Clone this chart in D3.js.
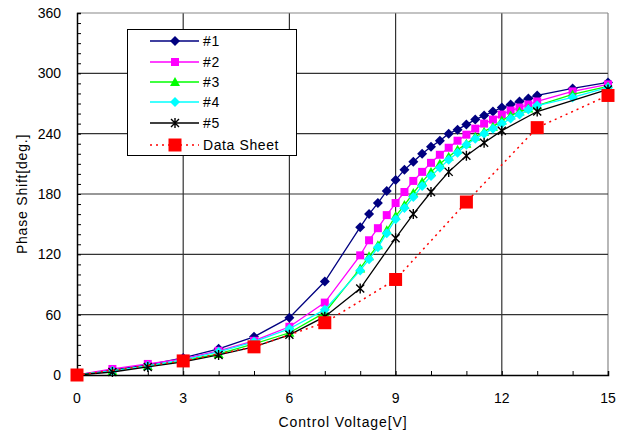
<!DOCTYPE html>
<html lang="en">
<head>
<meta charset="UTF-8">
<title>Phase shift vs control voltage</title>
<script src="https://cdn.jsdelivr.net/npm/d3@7/dist/d3.min.js"></script>
<style>
body { margin: 0; background: #fff; }
svg text { font-family: "Liberation Sans", Arial, sans-serif; fill: #000; }
</style>
</head>
<body>
<div id="chart"></div>
<script>

// x positions (volts) shared by series #1 - #4
var voltsDense = [0, 1, 2, 3, 4, 5, 6, 7,
  8, 8.25, 8.5, 8.75, 9, 9.25, 9.5, 9.75, 10, 10.25, 10.5, 10.75,
  11, 11.25, 11.5, 11.75, 12, 12.25, 12.5, 12.75, 13, 14, 15];

var s1 = [0, 5, 10, 17, 26, 38, 57, 93,
  147, 160, 171, 183, 194, 204, 212, 220, 227, 233, 240, 244,
  249, 254, 258, 262, 266, 269, 272, 275, 278, 285, 291];
var s2 = [0, 6, 11, 16, 24, 34, 48, 72,
  119, 134, 146, 159, 171, 182, 193, 202, 211, 219, 226, 233,
  239, 245, 250, 254, 259, 263, 266, 269, 272, 282, 289];
var s3 = [0, 4, 9, 14, 21, 31, 42, 62,
  106, 118, 129, 144, 158, 169, 181, 192, 202, 210, 217, 224,
  230, 237, 242, 247, 253, 258, 262, 265, 268, 279, 287];
var s4 = [0, 4, 9, 15, 23, 33, 46, 65,
  104, 115, 127, 141, 155, 166, 177, 188, 198, 206, 214, 221,
  229, 235, 240, 245, 250, 255, 259, 264, 268, 276, 286];

var volts5 = [0, 1, 2, 3, 4, 5, 6, 7, 8, 9, 9.5, 10, 10.5, 11, 11.5, 12, 13, 15];
var s5 = [0, 3, 8, 13, 20, 28, 40, 58, 86, 136, 160, 182, 202, 218, 231, 243, 262, 284];

var voltsSheet = [0, 3, 5, 7, 9, 11, 13, 15];
var sheet = [0, 14, 28, 52, 95, 172, 246, 278];

var seriesNames = ["#1", "#2", "#3", "#4", "#5", "Data Sheet"];
var xTicks = [0, 3, 6, 9, 12, 15];
var yTicks = [0, 60, 120, 180, 240, 300, 360];

// sizes
var w = 623, h = 432;
var plotLeft = 77, plotRight = 608, plotTop = 13, plotBottom = 375;

var svg = d3.select("#chart").append("svg")
  .attr("width", w)
  .attr("height", h);

var x = d3.scaleLinear().domain([0, 15]).range([plotLeft, plotRight]);
var y = d3.scaleLinear().domain([0, 360]).range([plotBottom, plotTop]);

// grid
svg.selectAll("line.vgrid")
  .data(xTicks.slice(1))
  .enter().append("line")
  .attr("x1", function(d) { return x(d); })
  .attr("x2", function(d) { return x(d); })
  .attr("y1", plotTop).attr("y2", plotBottom)
  .attr("stroke", function(d) { return d == 15 ? "#888" : "#333"; })
  .attr("stroke-width", 1.2);

svg.selectAll("line.hgrid")
  .data(yTicks.slice(1))
  .enter().append("line")
  .attr("y1", function(d) { return y(d); })
  .attr("y2", function(d) { return y(d); })
  .attr("x1", plotLeft).attr("x2", plotRight)
  .attr("stroke", function(d) { return d == 360 ? "#888" : "#333"; })
  .attr("stroke-width", 1.2);

// axes with inward minor ticks
var xAxis = svg.append("g")
  .attr("transform", "translate(0," + plotBottom + ")")
  .call(d3.axisTop(x).tickValues(d3.range(0, 16, 1)).tickSize(4).tickFormat(""));
var yAxis = svg.append("g")
  .attr("transform", "translate(" + plotLeft + ",0)")
  .call(d3.axisRight(y).tickValues(d3.range(0, 361, 10)).tickSize(4).tickFormat(""));
[xAxis, yAxis].forEach(function(g) {
  g.select(".domain").attr("stroke", "#000").attr("stroke-width", 1.5);
  g.selectAll(".tick line").attr("stroke", "#000");
});

// tick labels
svg.selectAll("text.xlab")
  .data(xTicks)
  .enter().append("text")
  .attr("x", function(d) { return x(d); })
  .attr("y", 403)
  .attr("text-anchor", "middle")
  .style("font-size", "14px")
  .text(function(d) { return d; });

svg.selectAll("text.ylab")
  .data(yTicks)
  .enter().append("text")
  .attr("x", 61)
  .attr("y", function(d) { return y(d) + 5; })
  .attr("text-anchor", "end")
  .style("font-size", "14px")
  .text(function(d) { return d; });

svg.append("text")
  .attr("x", 343).attr("y", 427)
  .attr("text-anchor", "middle")
  .style("font-size", "14px")
  .style("letter-spacing", "0.9px")
  .text("Control Voltage[V]");

svg.append("text")
  .attr("transform", "translate(27,194) rotate(-90)")
  .attr("text-anchor", "middle")
  .style("font-size", "14px")
  .style("letter-spacing", "0.8px")
  .text("Phase Shift[deg.]");

// marker drawing
var diamond = "M0,-5L5,0L0,5L-5,0Z";
var square = "M-4,-4L4,-4L4,4L-4,4Z";
var triangle = "M0,-5L5,4L-5,4Z";
var bigSquare = "M-6.5,-6.5L6.5,-6.5L6.5,6.5L-6.5,6.5Z";

function drawMarker(g, kind, color) {
  if (kind == "star") {
    g.append("path")
      .attr("d", "M-4,-4L4,4M-4,4L4,-4M0,-5L0,5")
      .attr("stroke", color).attr("stroke-width", 1.4).attr("fill", "none");
  } else {
    var p = { diamond: diamond, square: square, triangle: triangle, big: bigSquare }[kind];
    g.append("path").attr("d", p).attr("fill", color);
  }
}

var series = [
  { name: seriesNames[0], xs: voltsDense, ys: s1, color: "#000080", marker: "diamond", dash: null },
  { name: seriesNames[1], xs: voltsDense, ys: s2, color: "#ff00ff", marker: "square", dash: null },
  { name: seriesNames[2], xs: voltsDense, ys: s3, color: "#00ff00", marker: "triangle", dash: null },
  { name: seriesNames[3], xs: voltsDense, ys: s4, color: "#00ffff", marker: "diamond", dash: null },
  { name: seriesNames[4], xs: volts5, ys: s5, color: "#000000", marker: "star", dash: null },
  { name: seriesNames[5], xs: voltsSheet, ys: sheet, color: "#ff0000", marker: "big", dash: "2,4" }
];

var line = d3.line()
  .x(function(d) { return x(d[0]); })
  .y(function(d) { return y(d[1]); });

series.forEach(function(s) {
  var pts = s.xs.map(function(v, i) { return [v, s.ys[i]]; });
  svg.append("path")
    .datum(pts)
    .attr("d", line)
    .attr("fill", "none")
    .attr("stroke", s.color)
    .attr("stroke-width", s.dash ? 1.5 : 1.3)
    .attr("stroke-dasharray", s.dash);

  var m = svg.selectAll(null)
    .data(pts)
    .enter().append("g")
    .attr("transform", function(d) { return "translate(" + x(d[0]) + "," + y(d[1]) + ")"; });
  m.each(function() { drawMarker(d3.select(this), s.marker, s.color); });
});

// legend
var legend = svg.append("g");
legend.append("rect")
  .attr("x", 127.5).attr("y", 29.5)
  .attr("width", 169).attr("height", 126)
  .attr("fill", "#fff")
  .attr("stroke", "#000");

var rowY = [41, 62, 82, 102, 123, 145];
series.forEach(function(s, i) {
  legend.append("line")
    .attr("x1", 150).attr("x2", 199)
    .attr("y1", rowY[i]).attr("y2", rowY[i])
    .attr("stroke", s.color)
    .attr("stroke-width", s.dash ? 1.5 : 1.3)
    .attr("stroke-dasharray", s.dash);
  var g = legend.append("g").attr("transform", "translate(175," + rowY[i] + ")");
  drawMarker(g, s.marker, s.color);
  legend.append("text")
    .attr("x", 203).attr("y", rowY[i] + 5)
    .style("font-size", "14px")
    .style("letter-spacing", "0.6px")
    .text(s.name);
});

</script>
</body>
</html>
